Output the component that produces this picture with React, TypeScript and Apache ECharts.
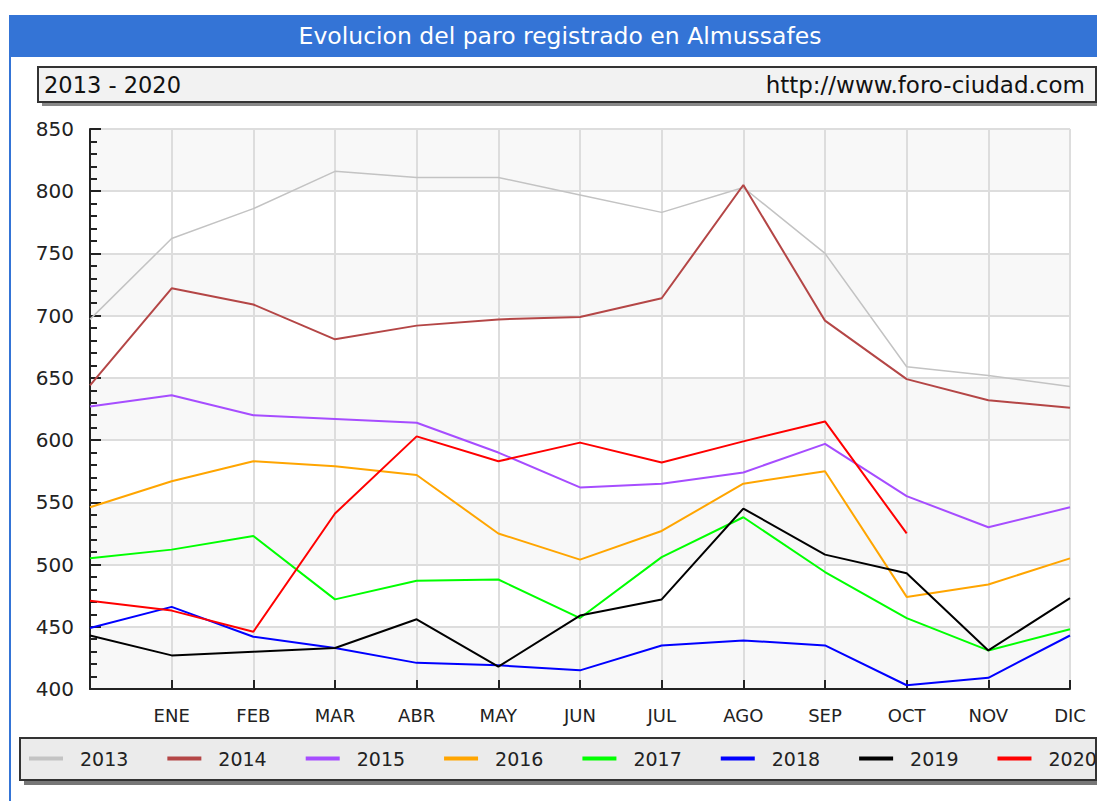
import React, { useEffect, useRef } from "react";
import * as echarts from "echarts";

const months = ["", "ENE", "FEB", "MAR", "ABR", "MAY", "JUN", "JUL", "AGO", "SEP", "OCT", "NOV", "DIC"];
const years = ["2013", "2014", "2015", "2016", "2017", "2018", "2019", "2020"];
const colors = ["#c3c3c3", "#b44646", "#a64dff", "#ffa500", "#00ff00", "#0000ff", "#000000", "#ff0000"];

const v2013 = [697, 762, 786, 816, 811, 811, 797, 783, 803, 750, 659, 652, 643];
const v2014 = [644, 722, 709, 681, 692, 697, 699, 714, 805, 696, 649, 632, 626];
const v2015 = [627, 636, 620, 617, 614, 590, 562, 565, 574, 597, 555, 530, 546];
const v2016 = [546, 567, 583, 579, 572, 525, 504, 527, 565, 575, 474, 484, 505];
const v2017 = [505, 512, 523, 472, 487, 488, 457, 506, 538, 494, 457, 431, 448];
const v2018 = [449, 466, 442, 433, 421, 419, 415, 435, 439, 435, 403, 409, 443];
const v2019 = [443, 427, 430, 433, 456, 418, 459, 472, 545, 508, 493, 431, 473];
const v2020 = [471, 463, 446, 541, 603, 583, 598, 582, 599, 615, 525];

const seriesValues = [v2013, v2014, v2015, v2016, v2017, v2018, v2019, v2020];

const FONT = "DejaVu Sans";

export default function App() {
  const ref = useRef<HTMLDivElement>(null);
  useEffect(() => {
    if (!ref.current) return;
    const chart = echarts.init(ref.current, null, { renderer: "svg" });
    chart.setOption({
      animation: false,
      backgroundColor: "#ffffff",
      textStyle: { fontFamily: FONT },
      graphic: [
        { type: "rect", z: -10, shape: { x: 9, y: 15, width: 1100, height: 42 }, style: { fill: "#3474d6" } },
        { type: "rect", z: -10, shape: { x: 9, y: 15, width: 2, height: 786 }, style: { fill: "#3474d6" } },
        {
          type: "text", z: 10, x: 560, y: 36,
          style: { text: "Evolucion del paro registrado en Almussafes", fill: "#ffffff", font: `23.5px '${FONT}'`, align: "center", verticalAlign: "middle" },
        },
        { type: "rect", z: -9, shape: { x: 42, y: 71, width: 1058, height: 35 }, style: { fill: "#888888" } },
        { type: "rect", z: -8, shape: { x: 38, y: 67, width: 1058, height: 35 }, style: { fill: "#f2f2f2", stroke: "#333333", lineWidth: 2 } },
        {
          type: "text", z: 10, x: 44, y: 85,
          style: { text: "2013 - 2020", fill: "#111111", font: `22.5px '${FONT}'`, align: "left", verticalAlign: "middle" },
        },
        {
          type: "text", z: 10, x: 1085, y: 85,
          style: { text: "http://www.foro-ciudad.com", fill: "#111111", font: `23px '${FONT}'`, align: "right", verticalAlign: "middle" },
        },
        { type: "rect", z: -9, shape: { x: 24, y: 742, width: 1076, height: 43 }, style: { fill: "#777777" } },
        { type: "rect", z: -8, shape: { x: 20, y: 738, width: 1076, height: 42 }, style: { fill: "#ebebeb", stroke: "#333333", lineWidth: 2 } },
      ],
      legend: {
        left: 24,
        top: 744,
        width: 1300,
        itemWidth: 34,
        itemHeight: 4,
        itemGap: 39,
        icon: "rect",
        data: years,
        textStyle: { fontFamily: FONT, fontSize: 19, color: "#222222", padding: [0, 0, 0, 12] },
      },
      grid: { left: 90, right: 27, top: 129, bottom: 112, containLabel: false },
      xAxis: {
        type: "category",
        data: months,
        boundaryGap: false,
        axisLine: { lineStyle: { color: "#222222", width: 2 } },
        axisTick: { show: true, inside: true, length: 9, lineStyle: { color: "#222222", width: 2 } },
        axisLabel: { color: "#222222", fontFamily: FONT, fontSize: 18, margin: 17, interval: 0 },
        splitLine: { show: true, lineStyle: { color: "#dddddd", width: 2 } },
      },
      yAxis: {
        type: "value",
        min: 400,
        max: 850,
        interval: 50,
        axisLine: { show: true, lineStyle: { color: "#222222", width: 2 } },
        axisTick: { show: true, inside: true, length: 11, lineStyle: { color: "#222222", width: 2 } },
        minorTick: { show: true, splitNumber: 5, length: 7, lineStyle: { color: "#222222", width: 2 } },
        axisLabel: { color: "#222222", fontFamily: FONT, fontSize: 20, margin: 16 },
        splitLine: { show: true, lineStyle: { color: "#dddddd", width: 2 } },
        splitArea: { show: true, areaStyle: { color: ["#f8f8f8", "#ffffff"] } },
      },
      series: years.map((y, i) => ({
        name: y,
        type: "line",
        data: seriesValues[i],
        color: colors[i],
        symbol: "none",
        lineStyle: { color: colors[i], width: i === 0 ? 1.5 : 2 },
        z: 2 + i,
      })),
    });
    return () => chart.dispose();
  }, []);
  return <div ref={ref} style={{ position: "absolute", left: 0, top: 0, width: 1097, height: 801 }} />;
}
